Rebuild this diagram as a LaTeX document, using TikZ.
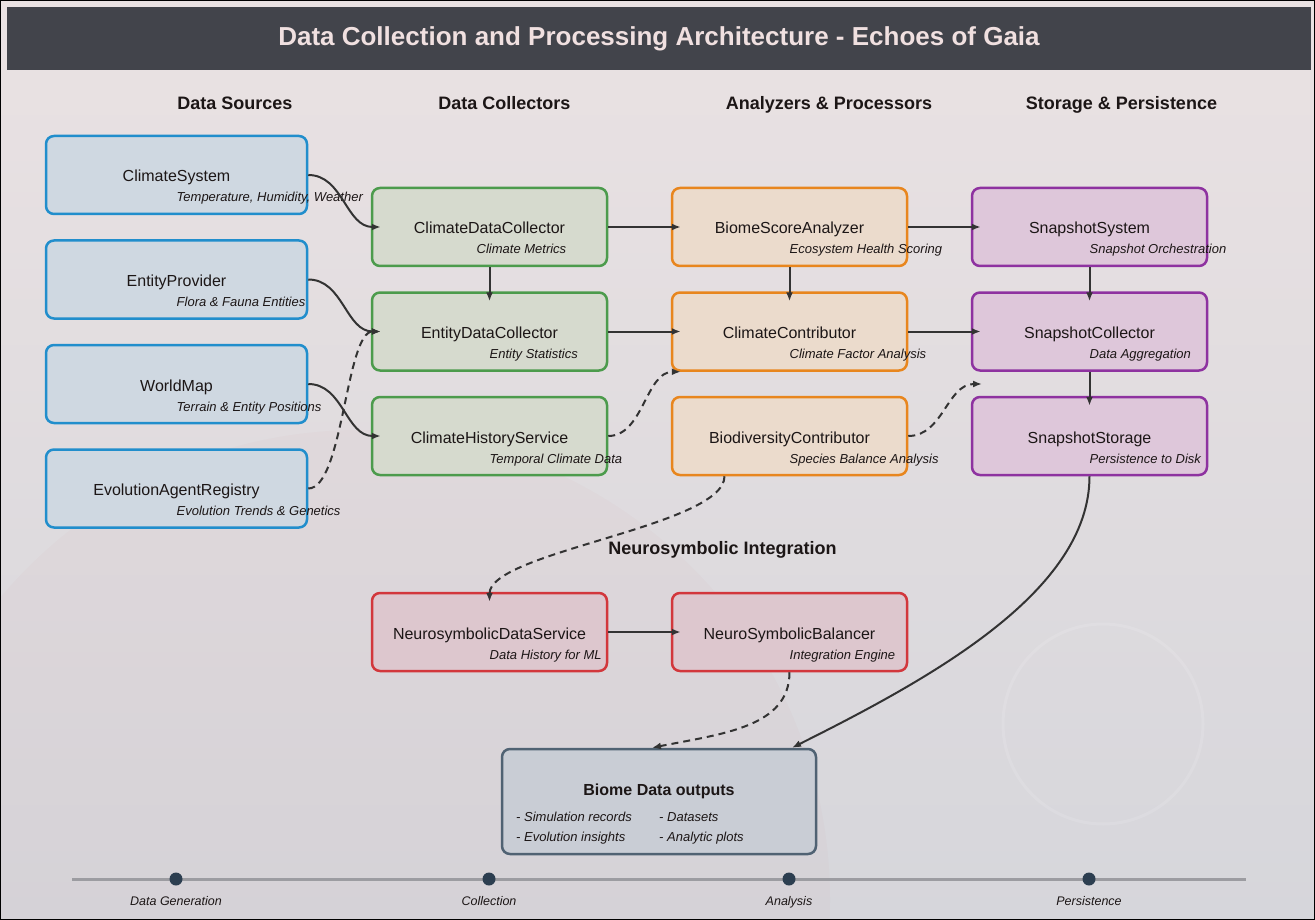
\documentclass[tikz,border=0pt]{standalone}
\usepackage{fontspec}
\setmainfont{Liberation Sans}
\usetikzlibrary{arrows.meta,positioning}
\definecolor{bgtop}{RGB}{234,226,227}
\definecolor{bgbot}{RGB}{214,214,219}
\definecolor{barcol}{RGB}{66,68,75}
\definecolor{bartext}{RGB}{240,224,224}
\definecolor{ink}{RGB}{28,22,22}
\definecolor{edge}{RGB}{51,51,51}
\definecolor{srcline}{RGB}{33,142,204}
\definecolor{srcfill}{RGB}{207,216,225}
\definecolor{colline}{RGB}{76,155,76}
\definecolor{colfill}{RGB}{214,218,206}
\definecolor{analine}{RGB}{232,134,30}
\definecolor{anafill}{RGB}{235,219,204}
\definecolor{stoline}{RGB}{142,50,160}
\definecolor{stofill}{RGB}{222,199,218}
\definecolor{neuline}{RGB}{210,55,60}
\definecolor{neufill}{RGB}{221,199,206}
\definecolor{outline}{RGB}{80,98,115}
\definecolor{outfill}{RGB}{201,205,213}
\definecolor{tlline}{RGB}{156,156,161}
\definecolor{tldot}{RGB}{44,62,80}
\tikzstyle{comp} = [rectangle, draw, rounded corners=8pt, line width=2.5pt,
    minimum width=235pt, minimum height=78pt, inner sep=0pt, text=ink,
    text height=14pt, text depth=0pt, font=\fontsize{16}{19}\selectfont]
\tikzstyle{source} = [comp, draw=srcline, fill=srcfill, minimum width=261pt]
\tikzstyle{collector} = [comp, draw=colline, fill=colfill]
\tikzstyle{analyzer} = [comp, draw=analine, fill=anafill]
\tikzstyle{storage} = [comp, draw=stoline, fill=stofill]
\tikzstyle{neuro} = [comp, draw=neuline, fill=neufill]
\tikzstyle{sub} = [anchor=base west, inner sep=0pt, text=ink,
    font=\fontsize{13}{15}\selectfont\itshape]
\tikzstyle{header} = [anchor=base, text=ink, font=\fontsize{18}{21}\selectfont\bfseries]
\tikzstyle{arrow} = [line width=2pt, draw=edge, ->, >={Latex[length=9pt,width=7pt]}]
\tikzstyle{dasharrow} = [arrow, dash pattern=on 7pt off 5pt]
\tikzstyle{dot} = [circle, fill=tldot, minimum size=13pt, inner sep=0pt]
\tikzstyle{tlabel} = [anchor=base, text=ink, font=\fontsize{12.5}{15}\selectfont\itshape]

\begin{document}
\begin{tikzpicture}[x=1pt, y=-1pt, node distance=104.5pt]
    % Background
    \useasboundingbox (0,0) rectangle (1315,920);
    \shade[top color=bgtop, bottom color=bgbot] (0,0) rectangle (1315,920);
    \fill[neuline, opacity=0.025] (360,900) circle (470);
    \draw[white, opacity=0.12, line width=3pt] (1103,724) circle (100);
    \draw[black, line width=1pt] (0.5,0.5) rectangle (1314.5,919.5);
    \node[fill=barcol, minimum width=1304pt, minimum height=63pt, text=bartext,
        font=\fontsize{26}{30}\selectfont\bfseries] (bar) at (659,38.5)
        {Data Collection and Processing Architecture - Echoes of Gaia};

    % Column headers
    \node[header] (hsrc) at (235,110) {Data Sources};
    \node[header] (hcol) at (504.5,110) {Data Collectors};
    \node[header] (hana) at (829,110) {Analyzers \& Processors};
    \node[header] (hsto) at (1121.5,110) {Storage \& Persistence};
    \node[header] (hneu) at (722.5,554) {Neurosymbolic Integration};

    % Place nodes
    \node[source] (climsys) at (176.5,175) {ClimateSystem};
    \node[source, below of=climsys] (entprov) {EntityProvider};
    \node[source, below of=entprov] (worldmap) {WorldMap};
    \node[source, below of=worldmap] (evoreg) {EvolutionAgentRegistry};

    \node[collector] (cdc) at (489.5,227) {ClimateDataCollector};
    \node[collector, below of=cdc] (edc) {EntityDataCollector};
    \node[collector, below of=edc] (chs) {ClimateHistoryService};

    \node[analyzer, right of=cdc, node distance=300pt] (bsa) {BiomeScoreAnalyzer};
    \node[analyzer, below of=bsa] (cc) {ClimateContributor};
    \node[analyzer, below of=cc] (bdc) {BiodiversityContributor};

    \node[storage, right of=bsa, node distance=300pt] (snsys) {SnapshotSystem};
    \node[storage, below of=snsys] (sncol) {SnapshotCollector};
    \node[storage, below of=sncol] (snsto) {SnapshotStorage};

    \node[neuro] (nds) at (489.5,632) {NeurosymbolicDataService};
    \node[neuro, right of=nds, node distance=300pt] (nsb) {NeuroSymbolicBalancer};

    % Sub labels
    \node[sub] (climsys-s) at ([yshift=-27pt]climsys.center) {Temperature, Humidity, Weather};
    \node[sub] (entprov-s) at ([yshift=-27pt]entprov.center) {Flora \& Fauna Entities};
    \node[sub] (worldmap-s) at ([yshift=-27pt]worldmap.center) {Terrain \& Entity Positions};
    \node[sub] (evoreg-s) at ([yshift=-27pt]evoreg.center) {Evolution Trends \& Genetics};
    \node[sub] (cdc-s) at ([xshift=-13pt,yshift=-27pt]cdc.center) {Climate Metrics};
    \node[sub] (edc-s) at ([yshift=-27pt]edc.center) {Entity Statistics};
    \node[sub] (chs-s) at ([yshift=-27pt]chs.center) {Temporal Climate Data};
    \node[sub] (bsa-s) at ([yshift=-27pt]bsa.center) {Ecosystem Health Scoring};
    \node[sub] (cc-s) at ([yshift=-27pt]cc.center) {Climate Factor Analysis};
    \node[sub] (bdc-s) at ([yshift=-27pt]bdc.center) {Species Balance Analysis};
    \node[sub] (snsys-s) at ([yshift=-27pt]snsys.center) {Snapshot Orchestration};
    \node[sub] (sncol-s) at ([yshift=-27pt]sncol.center) {Data Aggregation};
    \node[sub] (snsto-s) at ([yshift=-27pt]snsto.center) {Persistence to Disk};
    \node[sub] (nds-s) at ([yshift=-27pt]nds.center) {Data History for ML};
    \node[sub] (nsb-s) at ([yshift=-27pt]nsb.center) {Integration Engine};

    % Output box
    \node[comp, draw=outline, fill=outfill, minimum width=314pt, minimum height=105pt] (out) at (659,801.5) {};
    \node[text=ink, font=\fontsize{16}{19}\selectfont\bfseries, anchor=base] (out-t) at (659,795) {Biome Data outputs};
    \node[sub] (out-1) at (516,821) {- Simulation records};
    \node[sub] (out-2) at (516,841) {- Evolution insights};
    \node[sub] (out-3) at (659,821) {- Datasets};
    \node[sub] (out-4) at (659,841) {- Analytic plots};
    \coordinate (snapgap) at (982,384);

    % Draw edges
    \draw[arrow] (climsys.east) .. controls +(35,0) and +(-35,0) .. ([xshift=10pt]cdc.west);
    \draw[arrow] (entprov.east) .. controls +(35,0) and +(-35,0) .. ([xshift=10pt]edc.west);
    \draw[arrow] (worldmap.east) .. controls +(35,0) and +(-35,0) .. ([xshift=10pt]chs.west);
    \draw[dasharrow] (evoreg.east) .. controls +(35,0) and +(-35,0) .. ([xshift=10pt]edc.west);
    \draw[arrow] (cdc.south) -- ([yshift=-10pt]edc.north);
    \draw[arrow] (cdc.east) -- ([xshift=10pt]bsa.west);
    \draw[arrow] (edc.east) -- ([xshift=10pt]cc.west);
    \draw[dasharrow] (chs.east) .. controls +(35,0) and +(-35,0) .. ([xshift=10pt]cc.south west);
    \draw[arrow] (bsa.south) -- ([yshift=-10pt]cc.north);
    \draw[arrow] (bsa.east) -- ([xshift=10pt]snsys.west);
    \draw[arrow] (cc.east) -- ([xshift=10pt]sncol.west);
    \draw[dasharrow] (bdc.east) .. controls +(35,0) and +(-35,0) .. (snapgap);
    \draw[arrow] (snsys.south) -- ([yshift=-10pt]sncol.north);
    \draw[arrow] (sncol.south) -- ([yshift=-10pt]snsto.north);
    \draw[dasharrow] ([xshift=-65pt]bdc.south) .. controls +(0,50) and +(0,-50) .. ([yshift=-10pt]nds.north);
    \draw[arrow] (nds.east) -- ([xshift=10pt]nsb.west);
    \draw[dasharrow] (nsb.south) .. controls +(0,55) and +(70,-14) .. ([xshift=-7pt]out.north);
    \draw[arrow] (snsto.south) .. controls +(0,115) and +(140,-70) .. ([xshift=133pt]out.north);

    % Timeline
    \coordinate (tl-start) at (72,879);
    \coordinate (tl-end) at (1246,879);
    \draw[tlline, line width=3pt] (tl-start) -- (tl-end);
    \foreach \x/\t [count=\i] in {176/Data Generation, 489/Collection, 789/Analysis, 1089/Persistence} {
        \node[dot] (dot\i) at (\x,879) {};
        \node[tlabel] (tl\i) at (\x,905) {\t};
    }
\end{tikzpicture}
\end{document}
